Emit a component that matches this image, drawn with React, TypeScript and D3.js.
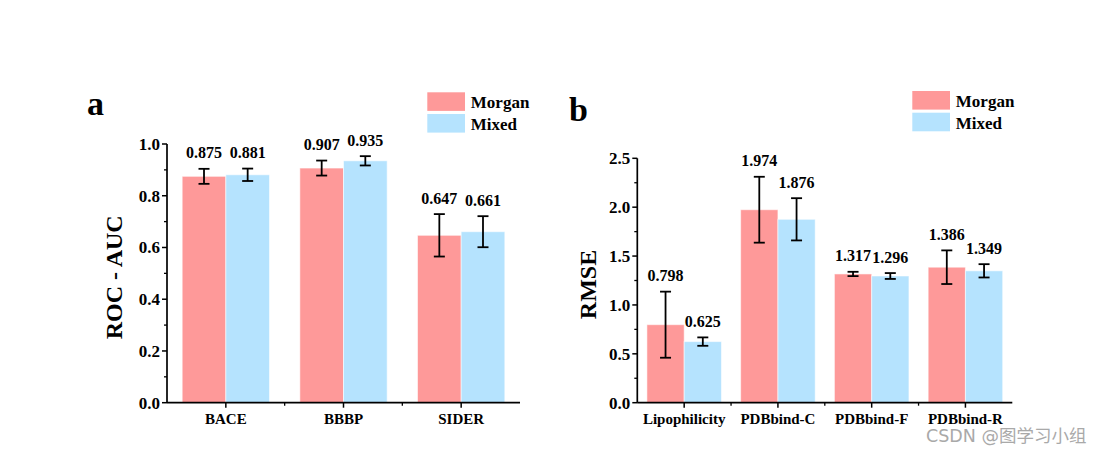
import React from "react";
import * as d3 from "d3";

const catsA = ["BACE", "BBBP", "SIDER"];
const morganA = [0.875, 0.907, 0.647];
const mixedA = [0.881, 0.935, 0.661];
const morganAErr = [0.029, 0.029, 0.082];
const mixedAErr = [0.024, 0.018, 0.06];
const ticksA = [0, 0.2, 0.4, 0.6, 0.8, 1.0];
const minorA = [0.1, 0.3, 0.5, 0.7, 0.9];

const catsB = ["Lipophilicity", "PDBbind-C", "PDBbind-F", "PDBbind-R"];
const morganB = [0.798, 1.974, 1.317, 1.386];
const mixedB = [0.625, 1.876, 1.296, 1.349];
const morganBErr = [0.338, 0.337, 0.022, 0.172];
const mixedBErr = [0.043, 0.216, 0.03, 0.068];
const ticksB = [0, 0.5, 1.0, 1.5, 2.0, 2.5];
const minorB = [0.25, 0.75, 1.25, 1.75, 2.25];

const seriesNames = ["Morgan", "Mixed"];
const colors = ["#FE9999", "#B5E3FE"];
const FONT = "'Liberation Serif', 'Times New Roman', serif";

type PanelProps = {
  letter: string;
  cats: string[];
  vals: number[][];
  errs: number[][];
  ticks: number[];
  minor: number[];
  fmtTick: (v: number) => string;
  x0: number;
  x1: number;
  y0: number;
  y1: number;
  domainMax: number;
  padding: number;
  yTitle: string;
  yTitleX: number;
  letterX: number;
  letterY: number;
  legendX: number;
  legendY: number;
};

function Panel(p: PanelProps) {
  const x = d3.scaleBand<string>().domain(p.cats).range([p.x0, p.x1]).paddingInner(p.padding).paddingOuter(p.padding / 2);
  const xs = d3.scaleBand<string>().domain(seriesNames).range([0, x.bandwidth()]);
  const y = d3.scaleLinear().domain([0, p.domainMax]).range([p.y0, p.y1]);
  const step = x.step();
  const boundaries = p.cats.slice(1).map((c) => (x(c) as number) - (step * p.padding) / 2);
  const cap = 5.5;
  return (
    <g>
      <text x={p.letterX} y={p.letterY} fontFamily={FONT} fontWeight="bold" fontSize={34} fill="#000">
        {p.letter}
      </text>
      {seriesNames.map((s, i) => (
        <g key={s}>
          <rect x={p.legendX} y={p.legendY + i * 21.7} width={37.7} height={18.6} fill={colors[i]} />
          <text x={p.legendX + 43.5} y={p.legendY + 15.8 + i * 21.7} fontFamily={FONT} fontWeight="bold" fontSize={17} fill="#000">
            {s}
          </text>
        </g>
      ))}
      {p.cats.map((c, ci) =>
        seriesNames.map((s, si) => {
          const v = p.vals[si][ci];
          const e = p.errs[si][ci];
          const bx = (x(c) as number) + (xs(s) as number);
          const bw = xs.bandwidth();
          const cx = bx + bw / 2;
          return (
            <g key={c + s}>
              <rect x={bx} y={y(v)} width={bw} height={p.y0 - y(v)} fill={colors[si]} stroke="rgba(255,255,255,0.55)" strokeWidth={1} />
              <line x1={cx} x2={cx} y1={y(v + e)} y2={y(v - e)} stroke="#000" strokeWidth={1.8} />
              <line x1={cx - cap} x2={cx + cap} y1={y(v + e)} y2={y(v + e)} stroke="#000" strokeWidth={1.8} />
              <line x1={cx - cap} x2={cx + cap} y1={y(v - e)} y2={y(v - e)} stroke="#000" strokeWidth={1.8} />
              <text x={cx} y={y(v + e) - 10.5} textAnchor="middle" fontFamily={FONT} fontWeight="bold" fontSize={16} fill="#000">
                {v.toFixed(3)}
              </text>
            </g>
          );
        })
      )}
      <line x1={p.x0} x2={p.x0} y1={y(p.domainMax)} y2={p.y0} stroke="#000" strokeWidth={1.7} />
      {p.ticks.map((t) => (
        <g key={t}>
          <line x1={p.x0 - 5} x2={p.x0} y1={y(t)} y2={y(t)} stroke="#000" strokeWidth={1.5} />
          <text x={p.x0 - 7} y={y(t) + 6} textAnchor="end" fontFamily={FONT} fontWeight="bold" fontSize={17} fill="#000">
            {p.fmtTick(t)}
          </text>
        </g>
      ))}
      {p.minor.map((t) => (
        <line key={t} x1={p.x0 - 3} x2={p.x0} y1={y(t)} y2={y(t)} stroke="#000" strokeWidth={1.3} />
      ))}
      <line x1={p.x0} x2={p.x1} y1={p.y0} y2={p.y0} stroke="#000" strokeWidth={1.7} />
      {p.cats.map((c) => {
        const cx = (x(c) as number) + x.bandwidth() / 2;
        return (
          <g key={c}>
            <line x1={cx} x2={cx} y1={p.y0} y2={p.y0 + 5} stroke="#000" strokeWidth={1.5} />
            <text x={cx} y={p.y0 + 21.5} textAnchor="middle" fontFamily={FONT} fontWeight="bold" fontSize={15} fill="#000">
              {c}
            </text>
          </g>
        );
      })}
      {boundaries.map((b, i) => (
        <line key={i} x1={b} x2={b} y1={p.y0} y2={p.y0 + 3} stroke="#000" strokeWidth={1.3} />
      ))}
      <text
        transform={`translate(${p.yTitleX},${(p.y0 + y(p.domainMax)) / 2 + 4}) rotate(-90)`}
        textAnchor="middle"
        dominantBaseline="central"
        fontFamily={FONT}
        fontWeight="bold"
        fontSize={24}
        fill="#000"
      >
        {p.yTitle}
      </text>
    </g>
  );
}

export default function App() {
  return (
    <svg width={1114} height={452} style={{ position: "absolute", left: 0, top: 0, background: "#fff" }}>
      <rect x={0} y={0} width={1114} height={452} fill="#fff" />
      <Panel
        letter="a"
        cats={catsA}
        vals={[morganA, mixedA]}
        errs={[morganAErr, mixedAErr]}
        ticks={ticksA}
        minor={minorA}
        fmtTick={(v) => v.toFixed(1)}
        x0={167}
        x1={520}
        y0={402.7}
        y1={144}
        domainMax={1.0}
        padding={0.258}
        yTitle="ROC - AUC"
        yTitleX={114}
        letterX={87}
        letterY={115}
        legendX={427.3}
        legendY={92.3}
      />
      <Panel
        letter="b"
        cats={catsB}
        vals={[morganB, mixedB]}
        errs={[morganBErr, mixedBErr]}
        ticks={ticksB}
        minor={minorB}
        fmtTick={(v) => v.toFixed(1)}
        x0={637.3}
        x1={1012.3}
        y0={402.7}
        y1={158.3}
        domainMax={2.5}
        padding={0.205}
        yTitle="RMSE"
        yTitleX={588}
        letterX={569}
        letterY={120.7}
        legendX={912.3}
        legendY={91}
      />
      <text x={926} y={442} fontFamily="'DejaVu Sans', 'Noto Sans CJK SC', sans-serif" fontSize={17.5} fill="#a9a9a9">
        CSDN @图学习小组
      </text>
    </svg>
  );
}
